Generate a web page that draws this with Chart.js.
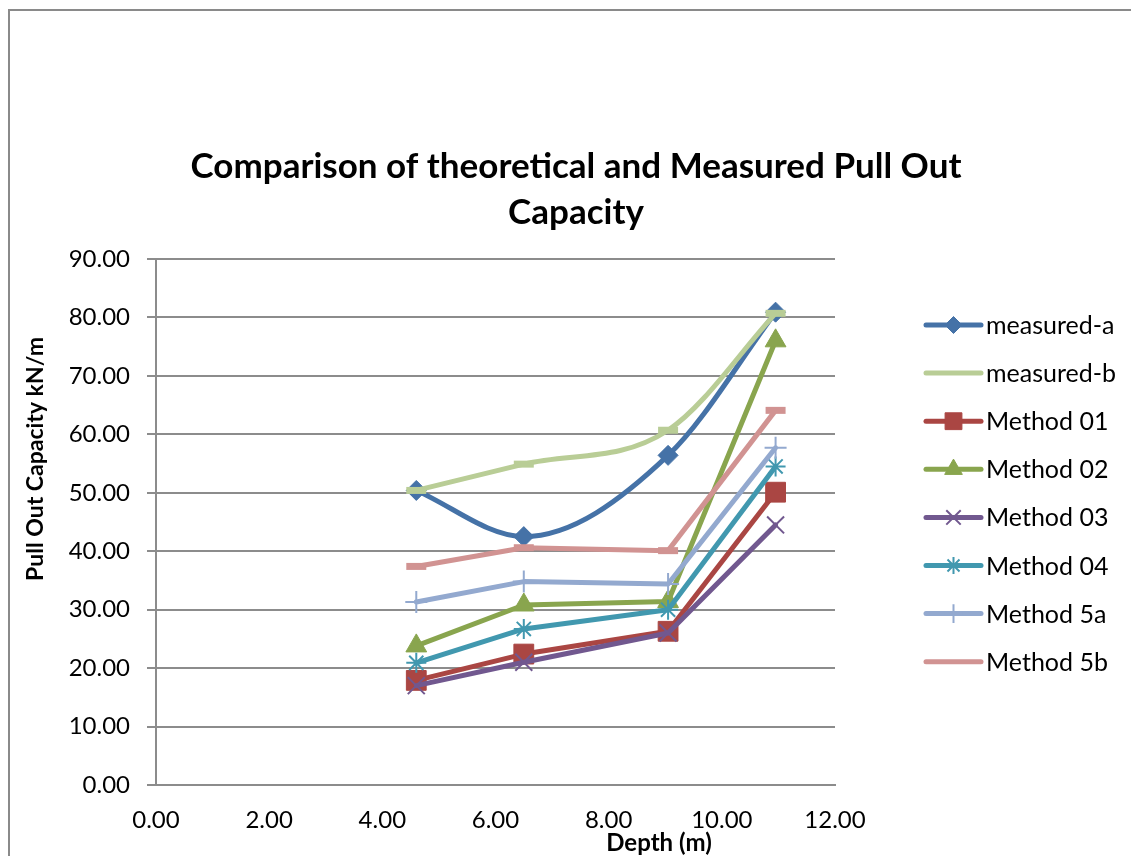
<!DOCTYPE html>
<html>
<head>
<meta charset="utf-8">
<title>Comparison of theoretical and Measured Pull Out Capacity</title>
<script src="https://cdn.jsdelivr.net/npm/chart.js@4/dist/chart.umd.min.js"></script>
<style>
  html, body { margin: 0; padding: 0; background: #ffffff; }
  #wrap { position: relative; width: 1131px; height: 856px; }
  canvas { display: block; }
</style>
</head>
<body>
<div id="wrap"><canvas id="chart" width="1131" height="856"></canvas></div>
<script>
// Depth of each test (m)
const depth = [4.6, 6.5, 9.05, 10.95];

// Pull out capacity (kN/m) per series
const measuredA = [50.4, 42.5, 56.4, 80.9];
const measuredB = [50.4, 54.9, 60.7, 80.7];
const method01  = [17.9, 22.4, 26.3, 50.1];
const method02  = [23.8, 30.8, 31.4, 76.0];
const method03  = [17.0, 21.0, 26.0, 44.5];
const method04  = [20.9, 26.7, 30.0, 54.5];
const method5a  = [31.3, 34.8, 34.4, 57.7];
const method5b  = [37.4, 40.6, 40.1, 64.1];

const seriesNames = ['measured-a', 'measured-b', 'Method 01', 'Method 02',
                     'Method 03', 'Method 04', 'Method 5a', 'Method 5b'];

// Axis ranges and tick steps
const xRange = [0, 12];
const xStep = 2;
const yRange = [0, 90];
const yStep = 10;

const titleLines = ['Comparison of theoretical and Measured Pull Out', 'Capacity'];
const xTitle = 'Depth (m)';
const yTitle = 'Pull Out Capacity kN/m';

const FONT = 'Lato, "Open Sans", sans-serif';
const GRID = '#8c8c8c';

const toXY = (vals) => vals.map((v, i) => ({ x: depth[i], y: v }));

const styles = [
  { color: '#4572A7', point: 'rectRot',  radius: 10, pbw: 1, smooth: true },
  { color: '#B9CD96', point: 'line',     radius: 10, pbw: 7, smooth: true },
  { color: '#AA4643', point: 'rect',     radius: 14, pbw: 1, smooth: false },
  { color: '#89A54E', point: 'triangle', radius: 12, pbw: 1, smooth: false },
  { color: '#71588F', point: 'crossRot', radius: 12, pbw: 2, smooth: false },
  { color: '#4198AF', point: 'star',     radius: 10, pbw: 2, smooth: false },
  { color: '#93A9CF', point: 'cross',    radius: 11, pbw: 2, smooth: false },
  { color: '#D19392', point: 'line',     radius: 10, pbw: 7, smooth: false }
];

const seriesValues = [measuredA, measuredB, method01, method02, method03, method04, method5a, method5b];

const datasets = seriesValues.map((vals, i) => ({
  label: seriesNames[i],
  data: toXY(vals),
  borderColor: styles[i].color,
  backgroundColor: styles[i].color,
  borderWidth: 5,
  borderCapStyle: 'round',
  borderJoinStyle: 'round',
  pointStyle: styles[i].point,
  pointRadius: styles[i].radius,
  pointHoverRadius: styles[i].radius,
  pointBorderWidth: styles[i].pbw,
  pointBorderColor: styles[i].color,
  pointBackgroundColor: styles[i].color,
  cubicInterpolationMode: styles[i].smooth ? 'monotone' : 'default',
  tension: 0,
  fill: false,
  order: seriesValues.length - i
}));

// Frame, titles and the legend with line + marker samples
const decorations = {
  id: 'decorations',
  beforeDraw(chart) {
    const ctx = chart.ctx;
    ctx.save();
    ctx.fillStyle = '#ffffff';
    ctx.fillRect(0, 0, chart.width, chart.height);
    ctx.strokeStyle = '#8a8a8a';
    ctx.lineWidth = 2;
    ctx.beginPath();
    ctx.moveTo(9, chart.height + 5);
    ctx.lineTo(9, 10);
    ctx.lineTo(chart.width + 5, 10);
    ctx.stroke();
    ctx.restore();
  },
  afterDraw(chart) {
    const ctx = chart.ctx;
    ctx.save();
    ctx.fillStyle = '#000000';
    ctx.textAlign = 'center';
    ctx.textBaseline = 'middle';

    // Chart title
    ctx.font = 'bold 35px ' + FONT;
    ctx.fillText(titleLines[0], 576, 167);
    ctx.fillText(titleLines[1], 576, 213);

    // Axis titles
    ctx.font = 'bold 24px ' + FONT;
    ctx.fillText(xTitle, 659, 843);
    ctx.font = 'bold 23px ' + FONT;
    ctx.save();
    ctx.translate(36, 459);
    ctx.rotate(-Math.PI / 2);
    ctx.fillText(yTitle, 0, 0);
    ctx.restore();

    // Legend
    const lx0 = 926, lx1 = 981, ly0 = 325, dy = 48.1;
    ctx.textAlign = 'left';
    ctx.font = '25px ' + FONT;
    chart.data.datasets.forEach((ds, i) => {
      const y = ly0 + dy * i;
      ctx.strokeStyle = ds.borderColor;
      ctx.lineWidth = ds.borderWidth;
      ctx.lineCap = 'round';
      ctx.beginPath();
      ctx.moveTo(lx0, y);
      ctx.lineTo(lx1, y);
      ctx.stroke();
      if (ds.pointStyle !== 'line') {
        ctx.fillStyle = ds.pointBackgroundColor;
        ctx.strokeStyle = ds.pointBorderColor;
        ctx.lineWidth = ds.pointBorderWidth;
        ctx.lineCap = 'butt';
        Chart.helpers.drawPoint(ctx, {
          pointStyle: ds.pointStyle,
          radius: ds.pointRadius * 0.85,
          rotation: 0,
          borderWidth: ds.pointBorderWidth
        }, (lx0 + lx1) / 2, y);
      }
      ctx.fillStyle = '#000000';
      ctx.fillText(ds.label, 986, y + 1);
    });
    ctx.restore();
  }
};

new Chart(document.getElementById('chart'), {
  type: 'line',
  data: { datasets },
  plugins: [decorations],
  options: {
    responsive: false,
    animation: false,
    devicePixelRatio: 1,
    layout: { padding: { top: 259, right: 296, left: 0, bottom: 0 } },
    plugins: {
      legend: { display: false },
      title: { display: false },
      tooltip: { enabled: false }
    },
    scales: {
      x: {
        type: 'linear',
        min: xRange[0],
        max: xRange[1],
        afterFit(scale) { scale.height = 71; },
        ticks: {
          stepSize: xStep,
          padding: 21,
          color: '#000000',
          font: { family: FONT, size: 24 },
          callback: (v) => Number(v).toFixed(2),
          maxRotation: 0
        },
        grid: { display: false, drawTicks: false },
        border: { display: true, color: GRID, width: 2 }
      },
      y: {
        min: yRange[0],
        max: yRange[1],
        afterFit(scale) { scale.width = 156; },
        ticks: {
          stepSize: yStep,
          padding: 17,
          color: '#000000',
          font: { family: FONT, size: 24 },
          callback: (v) => Number(v).toFixed(2)
        },
        grid: { color: GRID, lineWidth: 2, drawTicks: true, tickLength: 9 },
        border: { display: true, color: GRID, width: 2 }
      }
    }
  }
});
</script>
</body>
</html>
